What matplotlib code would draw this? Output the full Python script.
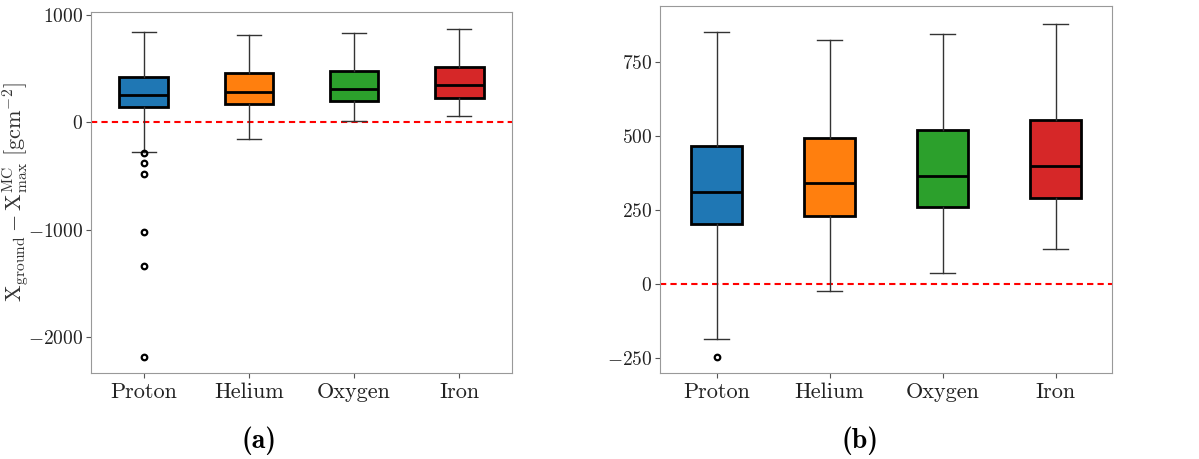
import matplotlib
matplotlib.use("Agg")
import matplotlib.pyplot as plt

plt.rcParams['font.family'] = 'serif'
plt.rcParams['font.serif'] = ['cmr10']
plt.rcParams['mathtext.fontset'] = 'cm'
plt.rcParams['axes.formatter.use_mathtext'] = True

categories = ["Proton", "Helium", "Oxygen", "Iron"]
colors = ["#1f77b4", "#ff7f0e", "#2ca02c", "#d62728"]

# panel (a): whislo, q1, median, q3, whishi, outliers
a_whislo = [-279, -155, 12, 56]
a_q1 = [146, 174, 202, 226]
a_med = [254, 285, 310, 347]
a_q3 = [425, 462, 478, 515]
a_whishi = [844, 819, 835, 869]
a_fliers = [[-289, -382, -478, -1018, -1334, -2184], [], [], []]

# panel (b)
b_whislo = [-183, -24, 38, 117]
b_q1 = [202, 230, 260, 292]
b_med = [311, 342, 364, 398]
b_q3 = [465, 494, 520, 553]
b_whishi = [848, 822, 843, 878]
b_fliers = [[-245], [], [], []]


def stats(lo, q1, med, q3, hi, fl):
    return [dict(label=c, whislo=lo[i], q1=q1[i], med=med[i], q3=q3[i],
                 whishi=hi[i], fliers=fl[i]) for i, c in enumerate(categories)]


fig = plt.figure(figsize=(11.99, 4.59), dpi=100)
ax1 = fig.add_axes([91/1199, 1-373/459, (512-91)/1199, (373-12)/459])
ax2 = fig.add_axes([660/1199, 1-373/459, (1112-660)/1199, (373-6)/459])


def draw(ax, st, ylim):
    bp = ax.bxp(st, widths=0.46, patch_artist=True, showfliers=True,
                boxprops=dict(edgecolor='black', linewidth=2),
                medianprops=dict(color='black', linewidth=2),
                whiskerprops=dict(color='#333333', linewidth=1),
                capprops=dict(color='#333333', linewidth=1),
                flierprops=dict(marker='o', markerfacecolor='none',
                                markeredgecolor='black', markersize=4,
                                markeredgewidth=1.6))
    for patch, c in zip(bp['boxes'], colors):
        patch.set_facecolor(c)
    ax.axhline(0, color='red', linestyle='--', linewidth=1.5, zorder=0.5,
               dashes=(3, 2))
    ax.set_ylim(*ylim)
    for s in ax.spines.values():
        s.set_color('#999999')
    ax.tick_params(axis='y', colors='#555555', labelcolor='#222222',
                   labelsize=14, pad=2)
    ax.tick_params(axis='x', colors='#555555', labelcolor='#222222', labelsize=16)
    ax.set_xticklabels(categories)


draw(ax1, stats(a_whislo, a_q1, a_med, a_q3, a_whishi, a_fliers), (-2336, 1030))
draw(ax2, stats(b_whislo, b_q1, b_med, b_q3, b_whishi, b_fliers), (-299, 937))
ax1.set_yticks([-2000, -1000, 0, 1000])
ax2.set_yticks([-250, 0, 250, 500, 750])

ax1.set_ylabel(r'$\mathrm{X_{ground}} - \mathrm{X_{max}^{MC}}\ [\mathrm{g cm^{-2}}]$',
               fontsize=16, color='#333333')
ax1.yaxis.set_label_coords(-0.14, 0.5)

fig.text(259/1199, 1-441/459, '(a)', ha='center', va='center',
         fontsize=20, family='cmb10')
fig.text(860/1199, 1-441/459, '(b)', ha='center', va='center',
         fontsize=20, family='cmb10')

fig.savefig('out.png', dpi=100)
